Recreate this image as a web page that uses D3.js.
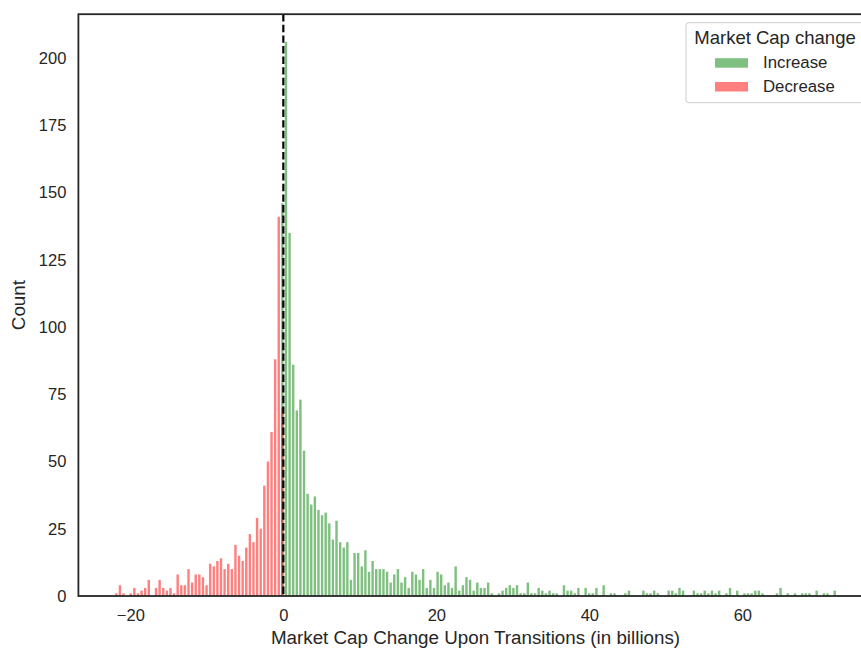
<!DOCTYPE html>
<html>
<head>
<meta charset="utf-8">
<script src="https://cdn.jsdelivr.net/npm/d3@7"></script>
<style>
  body { margin: 0; background: #fff; }
  svg { display: block; font-family: "Liberation Sans", Arial, sans-serif; }
</style>
</head>
<body>
<div id="chart"></div>
<script>
// histogram bins: 200 equal bins between these edges
var binStart = -22.07, binEnd = 72.31;

// counts per bin for negative changes, starting at bin 0
var decreaseCounts = [
  1, 4, 1, 0, 1, 3, 1, 2, 3, 6,
  0, 3, 6, 3, 2, 3, 1, 8, 4, 4,
  10, 5, 8, 8, 7, 4, 12, 11, 13, 14,
  10, 12, 10, 19, 15, 13, 18, 23, 20, 29,
  25, 41, 50, 61, 88, 141, 70
];

// counts per bin for positive changes, starting at bin 46
var increaseFirstBin = 46;
var increaseCounts = [
  146, 206, 135, 86,
  69, 73, 54, 38, 34, 37, 32, 30, 31, 27,
  21, 28, 20, 18, 20, 6, 16, 16, 11, 17,
  9, 13, 10, 10, 10, 9, 5, 8, 10, 5,
  7, 3, 9, 8, 6, 10, 3, 6, 3, 9,
  8, 4, 5, 3, 11, 2, 4, 7, 6, 2,
  5, 3, 3, 5, 1, 0, 1, 2, 3, 4,
  3, 4, 1, 1, 5, 1, 1, 3, 2, 1,
  2, 1, 1, 0, 4, 2, 2, 1, 3, 0,
  3, 1, 1, 3, 0, 4, 0, 1, 1, 0,
  0, 1, 2, 0, 0, 0, 2, 1, 1, 2,
  1, 0, 0, 2, 2, 1, 3, 2, 0, 0,
  2, 1, 1, 2, 1, 2, 1, 2, 0, 1,
  3, 0, 2, 0, 1, 1, 1, 2, 2, 1,
  0, 0, 0, 1, 3, 0, 1, 0, 1, 0,
  1, 1, 1, 0, 2, 0, 1, 1, 0, 2
];

var xTicks = [-20, 0, 20, 40, 60];
var yTicks = [0, 25, 50, 75, 100, 125, 150, 175, 200];
var legendTitle = 'Market Cap change';
var legendItems = ['Increase', 'Decrease'];
var colors = {Increase: 'green', Decrease: 'red'};

var W = 861, H = 651;
var nBins = 200;
var binWidth = (binEnd - binStart) / nBins;

function toBins(counts, first, hue){
  return counts.map(function(c, i){
    var k = first + i;
    return {x0: binStart + k * binWidth, x1: binStart + (k + 1) * binWidth, count: c, hue: hue};
  }).filter(function(d){ return d.count > 0; });
}
var bins = toBins(increaseCounts, increaseFirstBin, 'Increase')
  .concat(toBins(decreaseCounts, 0, 'Decrease'));

// matplotlib style 5% margins
var span = binEnd - binStart;
var yMax = d3.max(bins, function(d){ return d.count; }) * 1.05;

var plot = {left: 78.4, top: 14.2, bottom: 596};
var x = d3.scaleLinear().domain([binStart - span * 0.05, binEnd + span * 0.05]).range([plot.left, 872.6]);
var y = d3.scaleLinear().domain([0, yMax]).range([plot.bottom, plot.top]);

var svg = d3.select('#chart').append('svg')
  .attr('width', W).attr('height', H)
  .attr('viewBox', '0 0 ' + W + ' ' + H);

svg.append('g').classed('bars', true)
  .selectAll('rect').data(bins).enter().append('rect')
  .attr('x', function(d){ return x(d.x0) + 0.6; })
  .attr('width', function(d){ return x(d.x1) - x(d.x0) - 1.2; })
  .attr('y', function(d){ return y(d.count); })
  .attr('height', function(d){ return y(0) - y(d.count); })
  .attr('fill', function(d){ return colors[d.hue]; })
  .attr('fill-opacity', 0.5);

// zero line
svg.append('line')
  .attr('x1', x(0)).attr('x2', x(0))
  .attr('y1', plot.top).attr('y2', plot.bottom)
  .attr('stroke', '#000').attr('stroke-width', 2.2)
  .attr('stroke-dasharray', '7.4,3.2');

// axes
var xaxis = svg.append('g')
  .attr('transform', 'translate(0,' + plot.bottom + ')')
  .call(d3.axisBottom(x).tickValues(xTicks).tickSize(0).tickPadding(13));
var yaxis = svg.append('g')
  .attr('transform', 'translate(' + plot.left + ',0)')
  .call(d3.axisLeft(y).tickValues(yTicks).tickSize(0).tickPadding(12));
[xaxis, yaxis].forEach(function(a){
  a.select('.domain').remove();
  a.selectAll('text').attr('font-size', 16.5).attr('fill', '#262626')
    .attr('font-family', '"Liberation Sans", Arial, sans-serif');
});

// spines
svg.append('rect')
  .attr('x', plot.left).attr('y', plot.top)
  .attr('width', x.range()[1] - plot.left).attr('height', plot.bottom - plot.top)
  .attr('fill', 'none').attr('stroke', '#262626').attr('stroke-width', 1.8);

svg.append('text')
  .attr('x', (plot.left + 872.6) / 2).attr('y', 644)
  .attr('text-anchor', 'middle').attr('font-size', 18.8).attr('fill', '#262626')
  .text('Market Cap Change Upon Transitions (in billions)');
svg.append('text')
  .attr('transform', 'translate(25,' + (plot.top + plot.bottom) / 2 + ') rotate(-90)')
  .attr('text-anchor', 'middle').attr('font-size', 18.8).attr('fill', '#262626')
  .text('Count');

// legend
var lg = svg.append('g').attr('transform', 'translate(686,22.7)');
lg.append('rect').attr('width', 180).attr('height', 80).attr('rx', 3)
  .attr('fill', '#fff').attr('fill-opacity', 0.8)
  .attr('stroke', '#cccccc').attr('stroke-width', 1);
lg.append('text').attr('x', 89).attr('y', 21.6).attr('text-anchor', 'middle')
  .attr('font-size', 18.5).attr('fill', '#262626').text(legendTitle);
var item = lg.selectAll('g.item').data(legendItems).enter().append('g').classed('item', true)
  .attr('transform', function(d, i){ return 'translate(0,' + (35.5 + i * 23.8) + ')'; });
item.append('rect').attr('x', 29).attr('width', 33).attr('height', 9.5)
  .attr('fill', function(d){ return colors[d]; }).attr('fill-opacity', 0.5);
item.append('text').attr('x', 77).attr('y', 10).attr('font-size', 16.8).attr('fill', '#262626')
  .text(function(d){ return d; });
</script>
</body>
</html>
